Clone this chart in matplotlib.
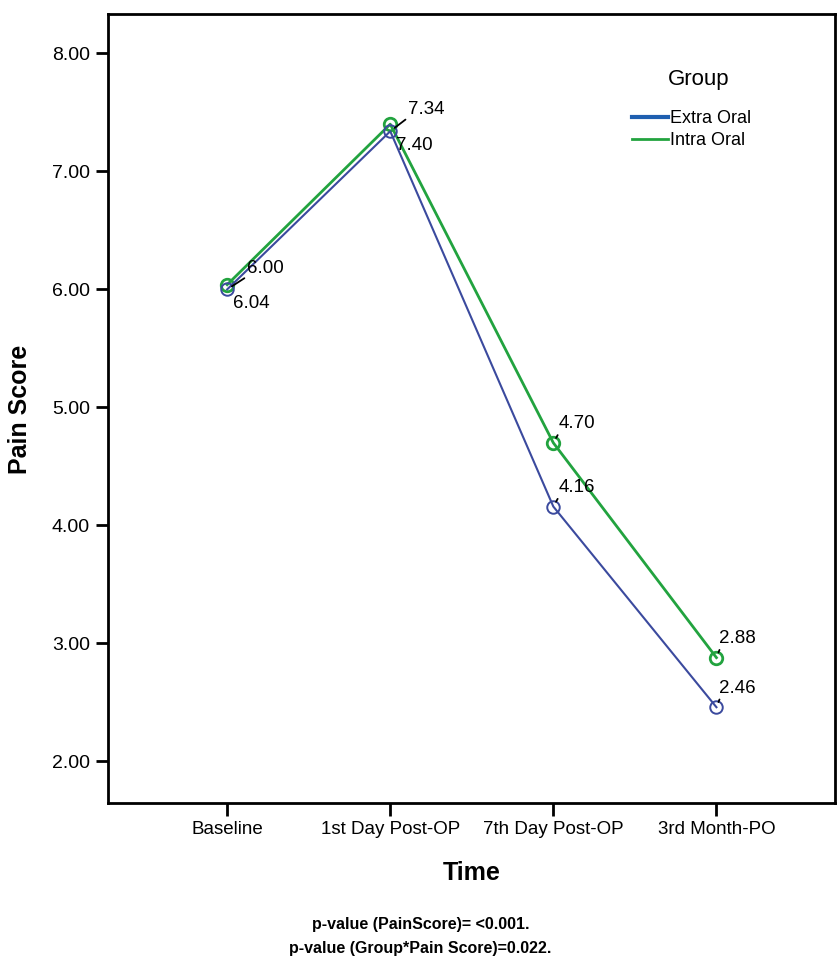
import matplotlib.pyplot as plt
from matplotlib.lines import Line2D

plt.rcParams['font.family'] = ['Liberation Sans', 'DejaVu Sans']

times = ['Baseline', '1st Day Post-OP', '7th Day Post-OP', '3rd Month-PO']
extra_oral = [6.00, 7.34, 4.16, 2.46]
intra_oral = [6.04, 7.40, 4.70, 2.88]
yticks = [2.0, 3.0, 4.0, 5.0, 6.0, 7.0, 8.0]
pvals = ['p-value (PainScore)= <0.001.', 'p-value (Group*Pain Score)=0.022.']

blue = '#3b4a9e'
green = '#22a33f'

fig = plt.figure(figsize=(8.38, 9.61), dpi=100)
ax = fig.add_axes([0.129, 0.164, 0.868, 0.821])

x = range(len(times))
ax.plot(x, extra_oral, color=blue, lw=1.5, marker='o', ms=9, mfc='none',
        mec=blue, mew=1.4, zorder=3)
ax.plot(x, intra_oral, color=green, lw=2.0, marker='o', ms=9, mfc='none',
        mec=green, mew=2.0, zorder=2)

# label offsets in pixels (text anchor relative to point)
off_extra = [(20, 21), (18, 22), (5, 19), (3, 19)]
off_intra = [(6, -19), (6, -21), (5, 19), (3, 19)]
for i in x:
    for vals, off in ((extra_oral, off_extra), (intra_oral, off_intra)):
        dx, dy = off[i]
        up = dy > 0
        ax.annotate('%.2f' % vals[i], xy=(i, vals[i]), xytext=(dx, dy),
                    textcoords='offset pixels', ha='left',
                    va='center', fontsize=13.5,
                    arrowprops=dict(arrowstyle='-', lw=1.3, color='black',
                                    shrinkA=0, shrinkB=4, relpos=(0.05, 0.1))
                    if up else None)

ax.set_xlim(-0.73, 3.73)
ax.set_ylim(1.645, 8.33)
ax.set_xticks(list(x))
ax.set_xticklabels(times, fontsize=13.5)
ax.set_yticks(yticks)
ax.set_yticklabels(['%.2f' % v for v in yticks], fontsize=14)
ax.tick_params(direction='out', length=9, width=2, pad=4)
for s in ax.spines.values():
    s.set_linewidth(2)

ax.set_xlabel('Time', fontsize=18, fontweight='bold', labelpad=16)
ax.set_ylabel('Pain Score', fontsize=18, fontweight='bold', labelpad=14)

handles = [Line2D([], [], color='#1f5fb0', lw=3),
           Line2D([], [], color=green, lw=2)]
ax.legend(handles, ['Extra Oral', 'Intra Oral'],
          loc='upper left', bbox_to_anchor=(0.72, 0.879),
          borderaxespad=0, borderpad=0,
          frameon=False, fontsize=13,
          handlelength=2.0, handletextpad=0.1, labelspacing=0.3)
ax.text(0.770, 0.917, 'Group', transform=ax.transAxes, fontsize=16,
        ha='left', va='center')

for j, t in enumerate(pvals):
    fig.text(0.502, 1 - (925 + 23 * j) / 961, t, ha='center', va='center',
             fontsize=11.5, fontweight='bold')

fig.savefig('out.png', dpi=100)
